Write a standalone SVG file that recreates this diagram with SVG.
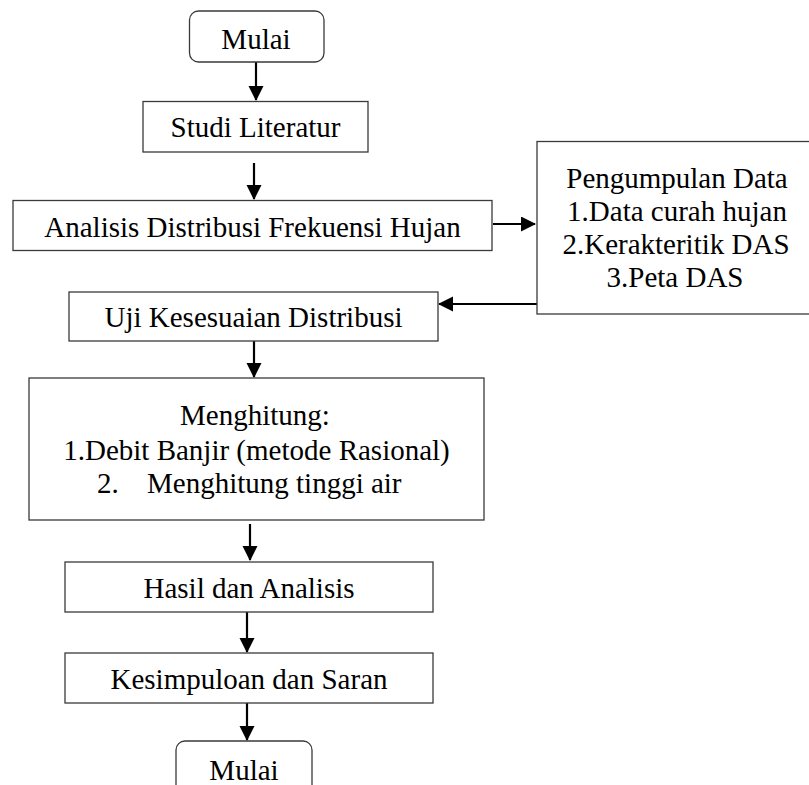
<svg xmlns="http://www.w3.org/2000/svg" width="809" height="785" viewBox="0 0 809 785">
<style>
.box{fill:#fff;stroke:#3a3a3a;stroke-width:1.3}
text{font-family:'Liberation Serif','Times New Roman',Times,serif;font-size:29px;fill:#000}
.t{text-anchor:middle}
.c{stroke:#000;stroke-width:2.2;fill:none;marker-end:url(#ah)}
</style>
<defs>
<marker id="ah" markerUnits="userSpaceOnUse" markerWidth="16" markerHeight="16" refX="14" refY="7.5" orient="auto">
<polygon points="0,0 15,7.5 0,15" fill="#000"/>
</marker>
</defs>
<rect width="809" height="785" fill="#fff"/>
<g id="connectors">
<line class="c" x1="256" y1="62" x2="256" y2="100"/>
<line class="c" x1="254" y1="163" x2="254" y2="199"/>
<line class="c" x1="493" y1="224" x2="535" y2="224"/>
<line class="c" x1="537" y1="304" x2="439" y2="304"/>
<line class="c" x1="254" y1="341" x2="254" y2="377"/>
<line class="c" x1="250" y1="524" x2="250" y2="560"/>
<line class="c" x1="247" y1="612" x2="247" y2="652"/>
<line class="c" x1="247" y1="703" x2="247" y2="740"/>
</g>
<g id="mulai-start">
<rect class="box" x="189.5" y="11" width="134.5" height="51" rx="9"/>
<text class="t" x="256" y="49">Mulai</text>
</g>
<g id="studi-literatur">
<rect class="box" x="143" y="101.5" width="225" height="50.5"/>
<text class="t" x="255.5" y="137">Studi Literatur</text>
</g>
<g id="analisis">
<rect class="box" x="13" y="200.5" width="479" height="50"/>
<text class="t" x="252.5" y="236.5">Analisis Distribusi Frekuensi Hujan</text>
</g>
<g id="pengumpulan-data">
<rect class="box" x="537" y="141.5" width="280" height="172.5"/>
<text class="t" x="677" y="188">Pengumpulan Data</text>
<text class="t" x="677" y="221">1.Data curah hujan</text>
<text class="t" x="676" y="254">2.Kerakteritik DAS</text>
<text class="t" x="675" y="287">3.Peta DAS</text>
</g>
<g id="uji">
<rect class="box" x="69" y="292" width="369" height="49"/>
<text class="t" x="253.5" y="327">Uji Kesesuaian Distribusi</text>
</g>
<g id="menghitung">
<rect class="box" x="29" y="378" width="455" height="142"/>
<text class="t" x="255" y="425">Menghitung:</text>
<text class="t" x="256.5" y="460">1.Debit Banjir (metode Rasional)</text>
<text y="493"><tspan x="97">2.</tspan><tspan x="147">Menghitung tinggi air</tspan></text>
</g>
<g id="hasil">
<rect class="box" x="65" y="562" width="368" height="50"/>
<text class="t" x="249" y="598">Hasil dan Analisis</text>
</g>
<g id="kesimpulan">
<rect class="box" x="65" y="653" width="368" height="50"/>
<text class="t" x="249" y="689">Kesimpuloan dan Saran</text>
</g>
<g id="mulai-end">
<rect class="box" x="176" y="741" width="136" height="60" rx="9"/>
<text class="t" x="244" y="780">Mulai</text>
</g>
</svg>
